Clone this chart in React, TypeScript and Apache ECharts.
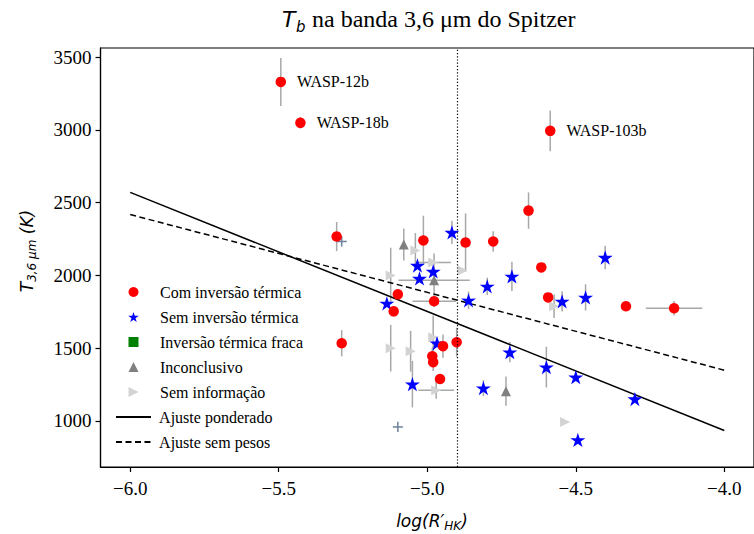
import React, { useEffect, useRef } from "react";
import * as echarts from "echarts";

// ---- Data ----
const comNames = ["WASP-12b", "WASP-18b", "WASP-103b", "", "", "", "", "", "", "", "", "", "", "", "", "", "", "", "", "", ""];
const comX = [-5.493, -5.427, -4.586, -5.305, -5.288, -5.013, -4.871, -4.778, -4.659, -4.616, -4.593, -4.331, -4.169, -5.099, -5.113, -4.977, -4.947, -4.901, -4.983, -4.98, -4.957];
const comY = [3329, 3048, 2993, 2267, 1534, 2240, 2226, 2233, 2445, 2055, 1849, 1788, 1774, 1870, 1753, 1822, 1514, 1541, 1445, 1404, 1288];
const comYErr = [165, 40, 140, 100, 90, 170, 200, 70, 125, 0, 0, 0, 50, 0, 0, 0, 80, 100, 60, 60, 0];
const comXErr = [0, 0, 0, 0, 0, 0, 0, 0, 0, 0, 0, 0, 0.095, 0, 0, 0.073, 0, 0, 0, 0, 0];

const semX = [-4.917, -5.033, -4.98, -5.026, -4.798, -4.715, -4.861, -5.136, -4.967, -4.722, -4.599, -4.5, -4.301, -4.493, -4.811, -5.05, -4.546, -4.467, -4.401];
const semY = [2295, 2068, 2027, 1979, 1925, 1993, 1829, 1808, 1534, 1473, 1370, 1301, 1151, 870, 1226, 1253, 1822, 1849, 2123];
const semYErr = [80, 0, 0, 0, 60, 100, 60, 0, 0, 70, 140, 0, 0, 0, 55, 160, 70, 90, 80];
const semXErr = [0, 0, 0, 0, 0, 0, 0, 0, 0, 0, 0, 0, 0, 0, 0, 0, 0, 0, 0];

const fracaX: number[] = [];
const fracaY: number[] = [];

const incX = [-5.079, -4.977, -4.735];
const incY = [2212, 1966, 1205];
const incYErr = [110, 185, 100];
const incXErr = [0, 0.12, 0];

const siX = [-5.04, -5.123, -4.98, -4.881, -5.123, -5.056, -4.98, -4.97, -4.573, -4.536];
const siY = [2171, 2000, 2089, 2034, 1500, 1479, 1575, 1212, 1788, 993];
const siYErr = [120, 190, 0, 0, 160, 140, 150, 60, 80, 0];
const siXErr = [0, 0, 0.06, 0, 0, 0, 0, 0.06, 0, 0];

const crossX = [-5.099, -5.288];
const crossY = [959, 2233];
const crossXErr = [0.017, 0.017];
const crossYErr = [35, 35];

const fitX = [-6.0, -4.0];
const weightedY = [2570, 935];
const unweightedY = [2418, 1349];

const limitX = -4.9;

const xTicks = [-6.0, -5.5, -5.0, -4.5, -4.0];
const yTicks = [1000, 1500, 2000, 2500, 3000, 3500];

// ---- helpers ----
const SERIF = "Liberation Serif";
const SANS = "DejaVu Sans";
const STAR =
  "path://M50 0L61.17 34.63L97.55 34.55L68.07 55.87L79.39 90.45L50 69L20.61 90.45L31.93 55.87L2.45 34.55L38.83 34.63Z";
const TRI = "path://M50 0L100 100L0 100Z";
const TRI_RIGHT = "path://M0 0L100 50L0 100Z";
const SQUARE = "path://M0 0L100 0L100 100L0 100Z";

const pts = (xs: number[], ys: number[]) => xs.map((x, i) => [x, ys[i]]);
const errs = (xs: number[], ys: number[], xe: number[], ye: number[]) =>
  xs.map((x, i) => [x, ys[i], xe[i], ye[i]]);

const errRender = (color: string) => (params: any, api: any) => {
  const x = api.value(0);
  const y = api.value(1);
  const xe = api.value(2);
  const ye = api.value(3);
  const style = { stroke: color, lineWidth: 1.5 };
  const children: any[] = [];
  if (ye > 0) {
    const a = api.coord([x, y - ye]);
    const b = api.coord([x, y + ye]);
    children.push({ type: "line", shape: { x1: a[0], y1: a[1], x2: b[0], y2: b[1] }, style });
  }
  if (xe > 0) {
    const a = api.coord([x - xe, y]);
    const b = api.coord([x + xe, y]);
    children.push({ type: "line", shape: { x1: a[0], y1: a[1], x2: b[0], y2: b[1] }, style });
  }
  return { type: "group", children };
};

export default function App() {
  const ref = useRef<HTMLDivElement>(null);
  useEffect(() => {
    if (!ref.current) return;
    const chart = echarts.init(ref.current, undefined, { renderer: "svg" });
    const allErr = [
      ...errs(comX, comY, comXErr, comYErr),
      ...errs(semX, semY, semXErr, semYErr),
      ...errs(incX, incY, incXErr, incYErr),
      ...errs(siX, siY, siXErr, siYErr),
    ];
    const fmtX = (v: number) => v.toFixed(1).replace("-", "\u2212");
    const option: any = {
      animation: false,
      backgroundColor: "#fff",
      textStyle: { fontFamily: SERIF, color: "#000" },
      grid: {
        left: 100.5,
        top: 48,
        width: 664,
        height: 419,
        show: true,
        borderColor: "#000",
        borderWidth: 1.2,
      },
      xAxis: {
        type: "value",
        min: -6.1,
        max: -3.9,
        axisLine: { show: true, onZero: false, lineStyle: { color: "#000", width: 1.2 } },
        axisTick: { show: true, length: 5, customValues: xTicks, lineStyle: { color: "#000", width: 1.2 } },
        axisLabel: {
          customValues: xTicks,
          formatter: fmtX,
          fontFamily: SERIF,
          fontSize: 19,
          color: "#000",
          margin: 12,
        },
        splitLine: { show: false },
      },
      yAxis: {
        type: "value",
        min: 684,
        max: 3562,
        axisLine: { show: true, onZero: false, lineStyle: { color: "#000", width: 1.2 } },
        axisTick: { show: true, length: 5, customValues: yTicks, lineStyle: { color: "#000", width: 1.2 } },
        axisLabel: {
          customValues: yTicks,
          formatter: (v: number) => String(v),
          fontFamily: SERIF,
          fontSize: 19,
          color: "#000",
          margin: 9,
        },
        splitLine: { show: false },
      },
      legend: {
        orient: "vertical",
        left: 115,
        top: 284,
        padding: 0,
        itemWidth: 35,
        itemHeight: 10,
        itemGap: 9,
        symbolKeepAspect: true,
        textStyle: { fontFamily: SERIF, fontSize: 16, color: "#000" },
        formatter: (name: string) => " " + name,
        data: [
          "Com inversão térmica",
          "Sem inversão térmica",
          "Inversão térmica fraca",
          "Inconclusivo",
          "Sem informação",
          "Ajuste ponderado",
          "Ajuste sem pesos",
        ],
      },
      graphic: [
        {
          type: "text",
          x: 282,
          y: 19,
          style: { text: "T", fontFamily: SANS, fontStyle: "italic", fontSize: 22, fill: "#000", align: "left", verticalAlign: "middle" },
        },
        {
          type: "text",
          x: 296,
          y: 27,
          style: { text: "b", fontFamily: SANS, fontStyle: "italic", fontSize: 15, fill: "#000", align: "left", verticalAlign: "middle" },
        },
        {
          type: "text",
          x: 312,
          y: 19,
          style: { text: "na banda 3,6 μm do Spitzer", fontFamily: SERIF, fontSize: 24, fill: "#000", align: "left", verticalAlign: "middle" },
        },
        {
          type: "text",
          x: 432,
          y: 521,
          style: {
            text: "{n|log(R′}{s|HK}{n|)}",
            align: "center",
            verticalAlign: "middle",
            rich: {
              n: { font: "italic 17px 'DejaVu Sans'", fill: "#000", lineHeight: 22, verticalAlign: "middle" },
              s: { font: "italic 12px 'DejaVu Sans'", fill: "#000", lineHeight: 12, verticalAlign: "bottom" },
            },
          },
        },
        {
          type: "text",
          x: 27,
          y: 251,
          rotation: Math.PI / 2,
          style: {
            text: "{n|T}{s|3,6 μm}{n| (K)}",
            align: "center",
            verticalAlign: "middle",
            rich: {
              n: { font: "italic 17px 'DejaVu Sans'", fill: "#000", lineHeight: 22, verticalAlign: "middle" },
              s: { font: "italic 12px 'DejaVu Sans'", fill: "#000", lineHeight: 12, verticalAlign: "bottom" },
            },
          },
        },
      ],
      series: [
        {
          type: "custom",
          name: "errbars",
          z: 1,
          silent: true,
          renderItem: errRender("#a8a8a8"),
          encode: { x: 0, y: 1 },
          data: allErr,
        },
        {
          type: "custom",
          name: "crosses",
          z: 1,
          silent: true,
          renderItem: errRender("#6f819c"),
          encode: { x: 0, y: 1 },
          data: errs(crossX, crossY, crossXErr, crossYErr),
        },
        {
          type: "line",
          name: "Ajuste ponderado",
          z: 2,
          symbol: "circle",
          showSymbol: false,
          data: pts(fitX, weightedY),
          lineStyle: { color: "#000", width: 1.5 },
          itemStyle: { color: "rgba(0,0,0,0)", borderWidth: 0 },
          markLine: {
            silent: true,
            symbol: "none",
            label: { show: false },
            lineStyle: { color: "#000", type: [1.2, 2], width: 1.2 },
            data: [{ xAxis: limitX }],
          },
        },
        {
          type: "line",
          name: "Ajuste sem pesos",
          z: 2,
          symbol: "circle",
          showSymbol: false,
          data: pts(fitX, unweightedY),
          lineStyle: { color: "#000", width: 1.5, type: [6, 3.5] },
          itemStyle: { color: "rgba(0,0,0,0)", borderWidth: 0 },
        },
        {
          type: "scatter",
          name: "Sem informação",
          z: 3,
          symbol: TRI_RIGHT,
          symbolKeepAspect: true,
          symbolSize: 10,
          itemStyle: { color: "#d3d3d3", opacity: 1 },
          data: pts(siX, siY),
        },
        {
          type: "scatter",
          name: "Inconclusivo",
          z: 3,
          symbol: TRI,
          symbolKeepAspect: true,
          symbolSize: 10,
          itemStyle: { color: "#808080", opacity: 1 },
          data: pts(incX, incY),
        },
        {
          type: "scatter",
          name: "Inversão térmica fraca",
          z: 3,
          symbol: SQUARE,
          symbolKeepAspect: true,
          symbolSize: 9,
          itemStyle: { color: "#008000", opacity: 1 },
          data: pts(fracaX, fracaY),
        },
        {
          type: "scatter",
          name: "Sem inversão térmica",
          z: 4,
          symbol: STAR,
          symbolKeepAspect: true,
          symbolSize: 15,
          itemStyle: { color: "#0000ff", opacity: 1 },
          data: pts(semX, semY),
        },
        {
          type: "scatter",
          name: "Com inversão térmica",
          z: 4,
          symbol: "circle",
          symbolSize: 10.5,
          itemStyle: { color: "#ff0000", opacity: 1 },
          data: pts(comX, comY),
          label: {
            show: true,
            position: "right",
            distance: 11,
            formatter: (p: any) => comNames[p.dataIndex],
            fontFamily: SERIF,
            fontSize: 16,
            color: "#000",
          },
        },
      ],
    };
    chart.setOption(option);
    return () => chart.dispose();
  }, []);
  return (
    <div
      ref={ref}
      style={{ position: "fixed", left: 0, top: 0, width: 754, height: 534, background: "#fff" }}
    />
  );
}
